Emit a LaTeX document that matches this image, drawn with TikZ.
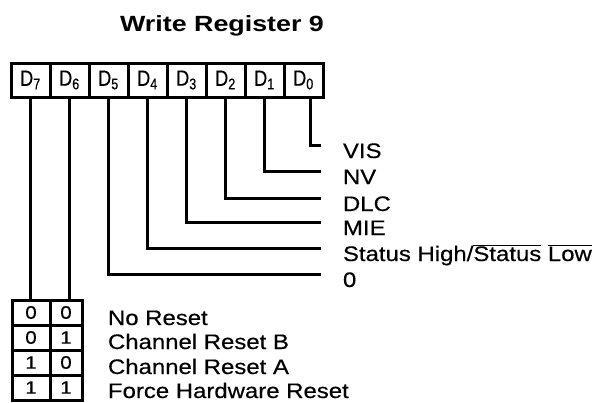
\documentclass[tikz,border=0pt]{standalone}
\usepackage{fontspec}
\setmainfont{Liberation Sans}[FakeStretch=1.14,FakeBold=0.4]
\newfontfamily\titlefont{Liberation Sans}[FakeStretch=1.22]
\newfontfamily\cellfont{Liberation Sans}[FakeStretch=0.82,FakeBold=0.4]
\usetikzlibrary{positioning}

\begin{document}
\begin{tikzpicture}[x=1pt,y=-1pt,line width=3pt,
  every node/.style={inner sep=0pt,outer sep=0pt},
  regcell/.style={draw,minimum width=39pt,minimum height=34pt,font=\cellfont\fontsize{22}{22}\selectfont},
  bitcell/.style={draw,minimum height=25pt,font=\fontsize{18}{18}\selectfont},
  lbl/.style={anchor=base west,font=\fontsize{21}{21}\selectfont}]
  \useasboundingbox (0,0) rectangle (597,402);
  \node[anchor=base,font=\titlefont\bfseries\fontsize{22}{22}\selectfont] (title)
    at (222,31) {Write Register 9};

  \node[regcell] (d7) at (30.5,80) {D\textsubscript{7}};
  \node[regcell,right=0pt of d7] (d6) {D\textsubscript{6}};
  \node[regcell,right=0pt of d6] (d5) {D\textsubscript{5}};
  \node[regcell,right=0pt of d5] (d4) {D\textsubscript{4}};
  \node[regcell,right=0pt of d4] (d3) {D\textsubscript{3}};
  \node[regcell,right=0pt of d3] (d2) {D\textsubscript{2}};
  \node[regcell,right=0pt of d2] (d1) {D\textsubscript{1}};
  \node[regcell,right=0pt of d1] (d0) {D\textsubscript{0}};

  \node[lbl] (vis) at (343,158) {VIS};
  \node[lbl] (nv) at (343,184) {NV};
  \node[lbl] (dlc) at (343,211) {DLC};
  \node[lbl] (mie) at (343,235) {MIE};
  \node[lbl] (stat) at (343,261) {Status High/$\overline{\mbox{Status}}$ $\overline{\mbox{Low}}$};
  \node[lbl] (zero) at (343,287) {0};

  \draw ([xshift=6.5pt]d0.south) |- ([xshift=-22pt,yshift=13pt]vis.base west);
  \draw (d1.south) |- ([xshift=-22pt,yshift=13pt]nv.base west);
  \draw (d2.south) |- ([xshift=-22pt,yshift=13pt]dlc.base west);
  \draw (d3.south) |- ([xshift=-22pt,yshift=13pt]mie.base west);
  \draw (d4.south) |- ([xshift=-22pt,yshift=13pt]stat.base west);
  \draw (d5.south) |- ([xshift=-22pt,yshift=13pt]zero.base west);

  \node[bitcell,minimum width=38pt] (b1l) at (31,312.5) {0};
  \node[bitcell,minimum width=32pt,right=0pt of b1l] (b1r) {0};
  \node[bitcell,minimum width=38pt,below=0pt of b1l] (b2l) {0};
  \node[bitcell,minimum width=32pt,right=0pt of b2l] (b2r) {1};
  \node[bitcell,minimum width=38pt,below=0pt of b2l] (b3l) {1};
  \node[bitcell,minimum width=32pt,right=0pt of b3l] (b3r) {0};
  \node[bitcell,minimum width=38pt,below=0pt of b3l] (b4l) {1};
  \node[bitcell,minimum width=32pt,right=0pt of b4l] (b4r) {1};

  \draw (d7.south) -- (d7.south |- b1l.north);
  \draw (d6.south) -- (d6.south |- b1r.north);

  \node[lbl] (nores) at (108,325) {No Reset};
  \node[lbl] (resb) at (108,349) {Channel Reset B};
  \node[lbl] (resa) at (108,374) {Channel Reset A};
  \node[lbl] (hwres) at (108,398) {Force Hardware Reset};
\end{tikzpicture}
\end{document}
